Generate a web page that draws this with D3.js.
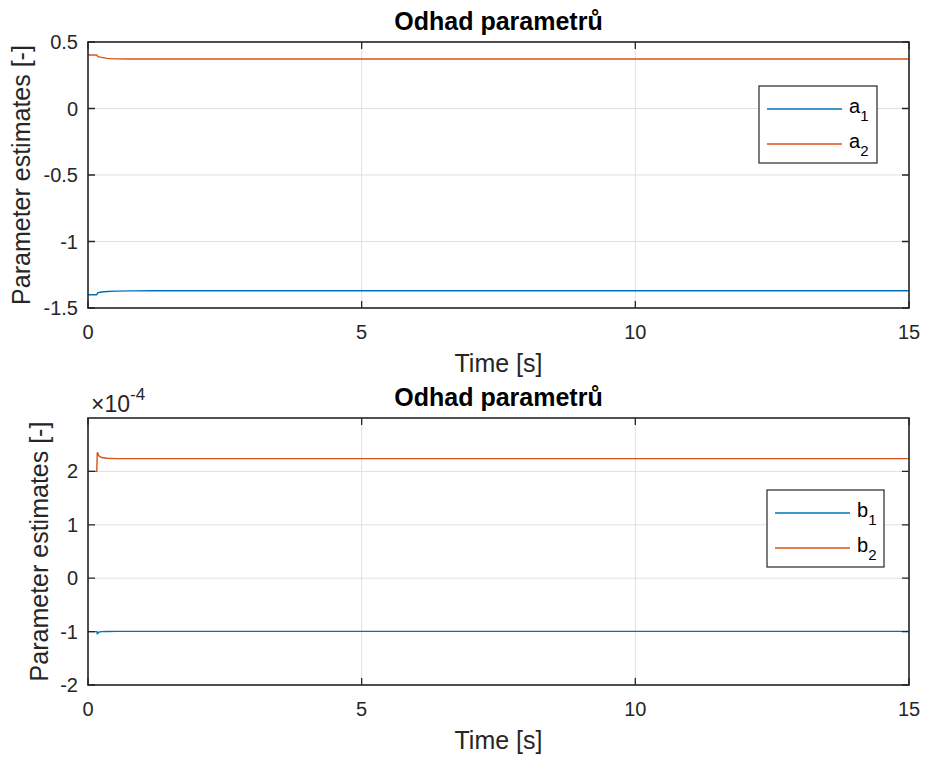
<!DOCTYPE html>
<html><head><meta charset="utf-8">
<script src="https://cdn.jsdelivr.net/npm/d3@7"></script>
<style>body{margin:0;background:#fff}svg{display:block}text{font-family:"Liberation Sans",Arial,sans-serif}</style>
</head><body><svg id="c" width="925" height="758"></svg>
<script>
// ---- data ----
const xTicks = [0, 5, 10, 15];
const xTickLabels = ["0", "5", "10", "15"];

const timeA = [0, 0.10, 0.16, 0.18, 0.25, 0.35, 0.50, 0.80, 1.20, 2.00, 15];
const a1 = [-1.400, -1.400, -1.400, -1.385, -1.380, -1.376, -1.373, -1.371, -1.370, -1.370, -1.370];
const a2 = [0.402, 0.402, 0.402, 0.390, 0.384, 0.377, 0.373, 0.372, 0.372, 0.372, 0.372];
const yTicksA = [-1.5, -1, -0.5, 0, 0.5];
const yTickLabelsA = ["-1.5", "-1", "-0.5", "0", "0.5"];

const timeB = [0, 0.10, 0.16, 0.17, 0.20, 0.25, 0.35, 0.50, 1.00, 2.00, 15];
const b1 = [-1.000e-4, -1.000e-4, -1.000e-4, -1.040e-4, -1.010e-4, -1.000e-4, -0.997e-4, -0.996e-4, -0.995e-4, -0.995e-4, -0.995e-4];
const b2 = [2.000e-4, 2.000e-4, 2.000e-4, 2.360e-4, 2.290e-4, 2.260e-4, 2.245e-4, 2.240e-4, 2.240e-4, 2.240e-4, 2.240e-4];
const yTicksB = [-2e-4, -1e-4, 0, 1e-4, 2e-4];
const yTickLabelsB = ["-2", "-1", "0", "1", "2"];

const titleText = "Odhad parametrů";
const xLabel = "Time [s]";
const yLabel = "Parameter estimates [-]";
const colors = ["#0072BD", "#D95319"];

const svg = d3.select("#c");

function panel(o) {
  const x = d3.scaleLinear().domain([0, 15]).range([o.left, o.right]);
  const y = d3.scaleLinear().domain(o.ydom).range([o.bottom, o.top]);
  const g = svg.append("g");
  // grid
  g.selectAll(".gx").data(xTicks).enter().append("line")
    .attr("x1", d => x(d)).attr("x2", d => x(d)).attr("y1", o.top).attr("y2", o.bottom)
    .attr("stroke", "#dfdfdf").attr("stroke-width", 1);
  g.selectAll(".gy").data(o.yticks).enter().append("line")
    .attr("x1", o.left).attr("x2", o.right).attr("y1", d => y(d)).attr("y2", d => y(d))
    .attr("stroke", "#dfdfdf").attr("stroke-width", 1);
  // series
  const line = d3.line().x((d, i) => x(o.t[i])).y(d => y(d));
  o.series.forEach((s, k) => {
    g.append("path").attr("d", line(s)).attr("fill", "none")
      .attr("stroke", colors[k]).attr("stroke-width", 1.4);
  });
  // ticks (inward)
  const tl = 7;
  g.selectAll(".tx").data(xTicks).enter().append("path")
    .attr("d", d => `M${x(d)},${o.bottom}v${-tl}M${x(d)},${o.top}v${tl}`)
    .attr("stroke", "#262626").attr("stroke-width", 1.3);
  g.selectAll(".ty").data(o.yticks).enter().append("path")
    .attr("d", d => `M${o.left},${y(d)}h${tl}M${o.right},${y(d)}h${-tl}`)
    .attr("stroke", "#262626").attr("stroke-width", 1.3);
  // box
  g.append("rect").attr("x", o.left).attr("y", o.top)
    .attr("width", o.right - o.left).attr("height", o.bottom - o.top)
    .attr("fill", "none").attr("stroke", "#262626").attr("stroke-width", 1.6);
  // tick labels
  g.selectAll(".lx").data(xTicks).enter().append("text")
    .attr("x", d => x(d)).attr("y", o.bottom + 31).attr("text-anchor", "middle")
    .attr("font-size", 20).attr("fill", "#262626").text((d, i) => xTickLabels[i]);
  g.selectAll(".ly").data(o.yticks).enter().append("text")
    .attr("x", o.left - 10).attr("y", d => y(d) + 7).attr("text-anchor", "end")
    .attr("font-size", 20).attr("fill", "#262626").text((d, i) => o.ylabels[i]);
  // axis labels
  g.append("text").attr("x", (o.left + o.right) / 2).attr("y", o.bottom + 64)
    .attr("text-anchor", "middle").attr("font-size", 25).attr("fill", "#262626").text(xLabel);
  g.append("text").attr("transform", `translate(${o.ylabX},${(o.top + o.bottom) / 2}) rotate(-90)`)
    .attr("text-anchor", "middle").attr("font-size", 25).attr("fill", "#262626").text(yLabel);
  // title
  g.append("text").attr("x", (o.left + o.right) / 2).attr("y", o.top - 12)
    .attr("text-anchor", "middle").attr("font-size", 25).attr("font-weight", "bold")
    .attr("fill", "#000").text(titleText);
  // exponent
  if (o.exp) {
    const e = g.append("text").attr("x", o.left + 3).attr("y", o.top - 6)
      .attr("font-size", 23).attr("fill", "#262626");
    e.append("tspan").text("×10");
    e.append("tspan").attr("dy", -12).attr("font-size", 17).text("-4");
  }
  // legend
  const L = o.legend;
  g.append("rect").attr("x", L.x).attr("y", L.y).attr("width", L.w).attr("height", L.h)
    .attr("fill", "#fff").attr("stroke", "#262626").attr("stroke-width", 1.2);
  o.names.forEach((nm, k) => {
    const yy = L.y + 23 + k * 35;
    g.append("line").attr("x1", L.x + 8).attr("x2", L.x + 83).attr("y1", yy).attr("y2", yy)
      .attr("stroke", colors[k]).attr("stroke-width", 1.4);
    const t = g.append("text").attr("x", L.x + 90).attr("y", yy + 4)
      .attr("font-size", 20).attr("fill", "#000");
    t.append("tspan").text(nm[0]);
    t.append("tspan").attr("dy", 8).attr("font-size", 15).text(nm[1]);
  });
}

panel({left: 88, right: 909, top: 42, bottom: 308, ydom: [-1.5, 0.5],
  yticks: yTicksA, ylabels: yTickLabelsA, t: timeA, series: [a1, a2], ylabX: 30,
  names: [["a", "1"], ["a", "2"]], legend: {x: 759, y: 86, w: 118, h: 77}});
panel({left: 88, right: 909, top: 418, bottom: 685, ydom: [-2e-4, 3e-4],
  yticks: yTicksB, ylabels: yTickLabelsB, t: timeB, series: [b1, b2], ylabX: 48, exp: true,
  names: [["b", "1"], ["b", "2"]], legend: {x: 767, y: 490, w: 117, h: 77}});
</script></body></html>
